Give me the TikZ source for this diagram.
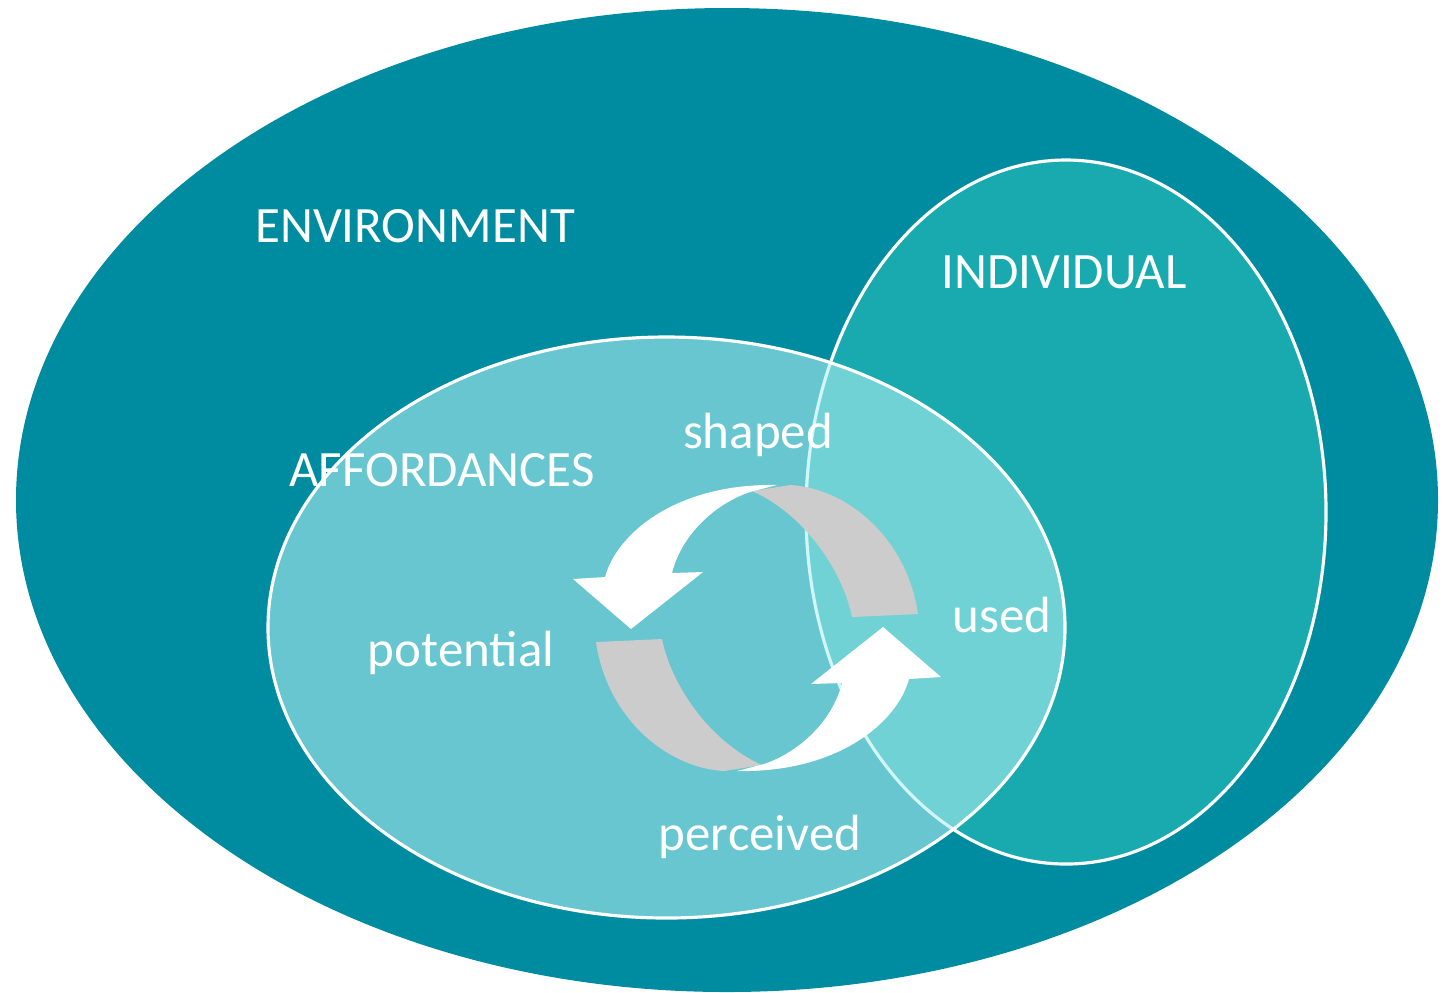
\documentclass[tikz,border=0pt]{standalone}
\usepackage{fontspec}
\setmainfont{Carlito}
\definecolor{envteal}{RGB}{0,140,160}
\definecolor{indteal}{RGB}{24,170,174}
\definecolor{affcyan}{RGB}{179,240,242}
\definecolor{ringgray}{RGB}{204,204,204}
\tikzset{
  labeltext/.style={text=white, font=\fontsize{14.5}{17}\selectfont, anchor=base, inner sep=0pt},
  rim/.style={draw=white, line width=0.9pt}
}
\begin{document}
\begin{tikzpicture}
    \useasboundingbox (0,0) rectangle (14.44,-9.92);
    \fill[white] (0,0) rectangle (14.44,-9.92);
    \fill[envteal] (7.27,-5.00) ellipse (7.11 and 4.92);
    \draw[rim, fill=indteal] (10.66,-5.12) ellipse (2.60 and 3.52);
    \draw[rim, fill=affcyan, fill opacity=0.58] (6.665,-6.275) ellipse (3.985 and 2.905);
    % cycle arrows
    \begin{scope}[shift={(7.57,-6.28)}]
    \foreach \r in {0,180} {
      \begin{scope}[rotate=\r]
      \fill[ringgray] (-0.05,1.37) .. controls (0.45,1.15) and (0.85,0.60) .. (0.95,0.11)
          -- (1.61,0.14) .. controls (1.50,0.90) and (0.90,1.40) .. (0.33,1.43) -- cycle;
      \fill[white] (0.20,1.43) .. controls (-0.80,1.45) and (-1.40,0.95) .. (-1.52,0.51)
          -- (-1.84,0.49) -- (-1.26,-0.01) -- (-0.54,0.56) -- (-0.85,0.55)
          .. controls (-0.75,0.95) and (-0.40,1.25) .. (-0.07,1.36) -- cycle;
      \end{scope}
    }
    \end{scope}
    \node[labeltext] (env) at (4.15,-2.42) {ENVIRONMENT};
    \node[labeltext] (indiv) at (10.64,-2.88) {INDIVIDUAL};
    \node[labeltext] (afford) at (4.42,-4.86) {AFFORDANCES};
    \node[labeltext] (shaped) at (7.58,-4.48) {shaped};
    \node[labeltext] (used) at (10.02,-6.32) {used};
    \node[labeltext] (potential) at (4.61,-6.66) {potential};
    \node[labeltext] (perceived) at (7.60,-8.50) {perceived};
\end{tikzpicture}
\end{document}
